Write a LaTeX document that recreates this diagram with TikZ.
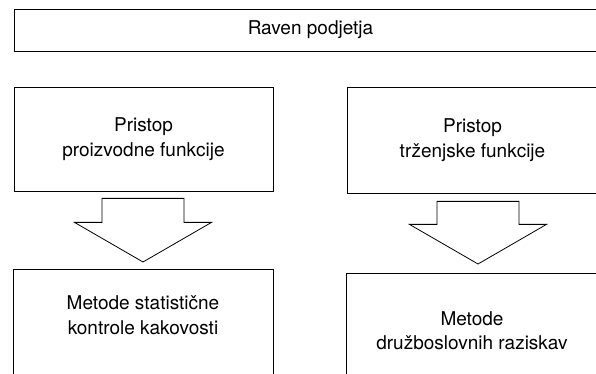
\documentclass[tikz,border=0pt]{standalone}
\usepackage{fontspec}
\setmainfont{TeX Gyre Heros}
\usetikzlibrary{calc}
\begin{document}
\begin{tikzpicture}[x=1pt,y=1pt,
  box/.style={draw, line width=0.8pt, rectangle, inner sep=0pt},
  lbl/.style={align=center, font=\fontsize{19}{24.5}\selectfont, inner sep=0pt},
  blockarrow/.style={draw, line width=0.8pt, line join=miter}]
\clip (0,0) rectangle (596,374);
\fill[white] (0,0) rectangle (596,374);
% top level
\node[box, minimum width=593pt, minimum height=42pt] (top) at (310.5,344) {};
\node[lbl] (toptext) at (top.center) {Raven podjetja};
% approaches
\node[box, minimum width=259pt, minimum height=104pt] (p1) at (143.5,235) {};
\node[lbl] (p1text) at (p1.center) {Pristop\\proizvodne funkcije};
\node[box, minimum width=251pt, minimum height=106pt] (p2) at (472.5,234) {};
\node[lbl] (p2text) at (p2.center) {Pristop\\trženjske funkcije};
% methods
\node[box, minimum width=260pt, minimum height=130pt, anchor=north] (m1) at (143,105) {};
\node[lbl] (m1text) at ($(m1.north)+(0,-46)$) {Metode statistične\\kontrole kakovosti};
\node[box, minimum width=252pt, minimum height=130pt, anchor=north] (m2) at (472,101) {};
\node[lbl] (m2text) at ($(m2.north)+(0,-57.5)$) {Metode\\družboslovnih raziskav};
% block arrows
\coordinate (a1) at ($(p1.south)+(-0.5,-7)$);
\coordinate (a1tip) at ($(m1.north)+(0,7)$);
\draw[blockarrow] ($(a1)+(-41,0)$) -- ($(a1)+(41,0)$) -- ($(a1)+(41,-24)$) -- ($(a1)+(68.5,-24)$)
  -- (a1tip) -- ($(a1)+(-68.5,-24)$) -- ($(a1)+(-41,-24)$) -- cycle;
\coordinate (a2) at ($(p2.south)+(5.5,-8)$);
\coordinate (a2tip) at ($(m2.north)+(6,9)$);
\draw[blockarrow] ($(a2)+(-41,0)$) -- ($(a2)+(41,0)$) -- ($(a2)+(41,-23)$) -- ($(a2)+(68.5,-23)$)
  -- (a2tip) -- ($(a2)+(-68.5,-23)$) -- ($(a2)+(-41,-23)$) -- cycle;
\end{tikzpicture}
\end{document}
